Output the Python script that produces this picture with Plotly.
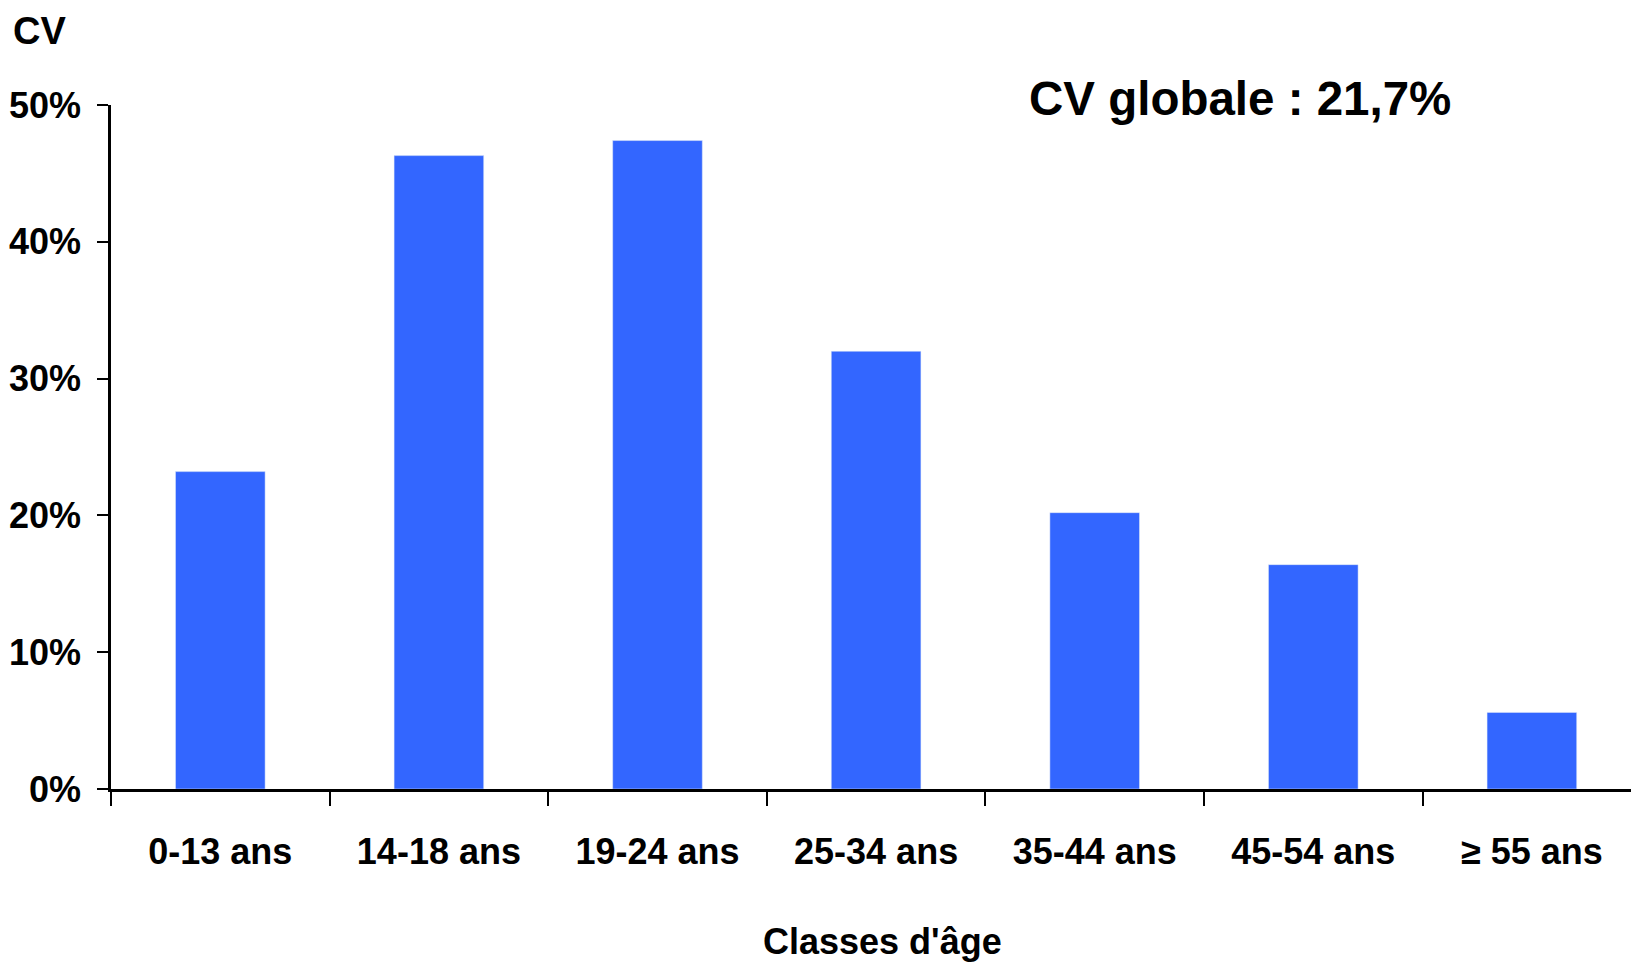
import plotly.graph_objects as go

categories = ["0-13 ans", "14-18 ans", "19-24 ans", "25-34 ans", "35-44 ans", "45-54 ans", "≥ 55 ans"]
cv_values = [0.232, 0.463, 0.474, 0.320, 0.202, 0.164, 0.056]
y_tick_values = [0, 0.1, 0.2, 0.3, 0.4, 0.5]
y_tick_labels = ["0%", "10%", "20%", "30%", "40%", "50%"]

OFF = 8  # page body margin
W, H = 1639 - OFF, 964 - OFF
L, R, T, B = 111 - OFF, 0, 105 - OFF, 175
pw, ph = W - L - R, H - T - B

narrow = "Liberation Sans Narrow, Arial Narrow, Liberation Sans, Arial, sans-serif"
FS = 36

fig = go.Figure(go.Bar(x=categories, y=cv_values, marker_color="#3366FF", width=0.41))

fig.update_layout(
    width=W, height=H,
    margin=dict(l=L, r=R, t=T, b=B, autoexpand=False),
    paper_bgcolor="white", plot_bgcolor="white",
    showlegend=False,
    font=dict(family=narrow, color="black"),
)
fig.update_xaxes(
    type="category", range=[-0.5, 6.49], automargin=False,
    showline=True, linecolor="black", linewidth=2.5,
    ticks="outside", tickson="boundaries", ticklen=14, tickwidth=2, tickcolor="black",
    tickfont=dict(family=narrow, size=FS, weight="bold"),
    tickangle=0, ticklabelstandoff=29,
    showgrid=False, zeroline=False,
)
fig.update_yaxes(
    range=[0, 0.5], automargin=False,
    tickvals=y_tick_values, ticktext=y_tick_labels,
    showline=True, linecolor="black", linewidth=2.5,
    ticks="outside", ticklen=11, tickwidth=2, tickcolor="black",
    tickfont=dict(family=narrow, size=FS, weight="bold"),
    ticklabelstandoff=9,
    showgrid=False, zeroline=False,
)

def px(x):
    return (x - OFF - L) / pw

def py(y):
    return (H - B - (y - OFF)) / ph

fig.add_annotation(text="CV", x=px(12), y=py(OFF + 1), xref="paper", yref="paper",
                   xanchor="left", yanchor="top", showarrow=False, borderpad=0,
                   font=dict(family=narrow, size=FS + 2, weight="bold"))
fig.add_annotation(text="CV globale : 21,7%", x=px(1027), y=py(99), xref="paper", yref="paper",
                   xanchor="left", yanchor="middle", showarrow=False,
                   font=dict(family="Liberation Sans, Arial, sans-serif", size=47.5, weight="bold"))
fig.add_annotation(text="Classes d'âge", x=px(883), y=py(941), xref="paper", yref="paper",
                   xanchor="center", yanchor="middle", showarrow=False,
                   font=dict(family=narrow, size=FS, weight="bold"))

fig.write_html("out.html")
